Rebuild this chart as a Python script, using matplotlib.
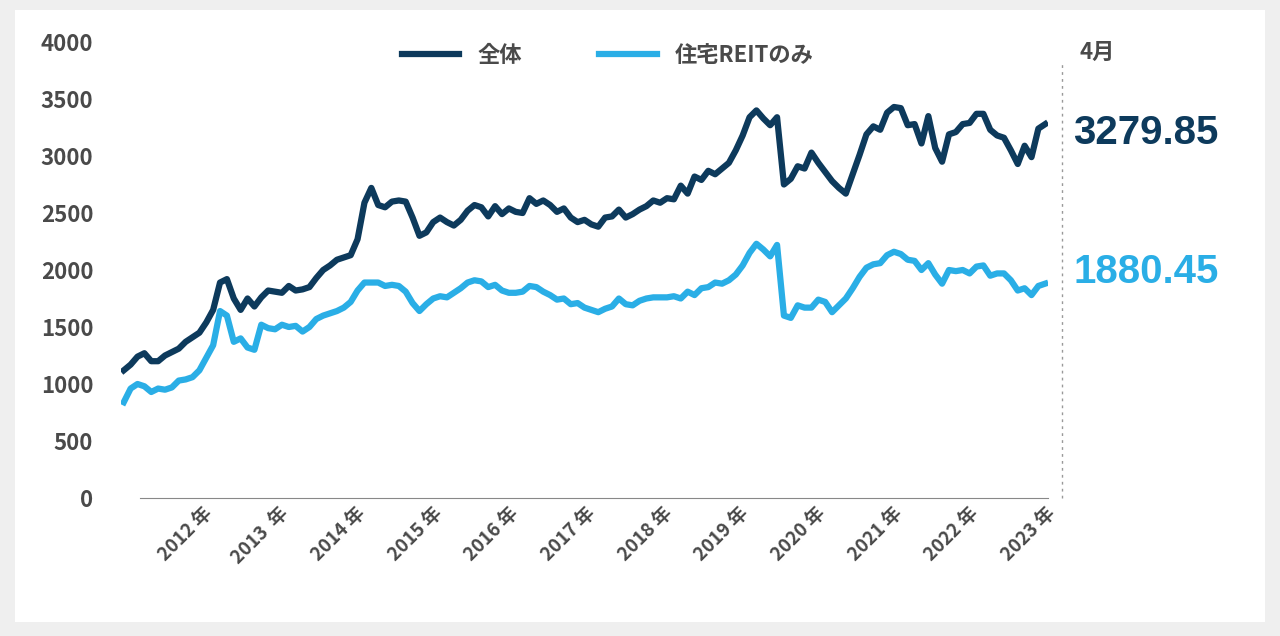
import numpy as np
import matplotlib.pyplot as plt

plt.rcParams['font.family'] = ['Noto Sans CJK JP']

# monthly index values (roughly)
total = [1120, 1170, 1240, 1270, 1200, 1200, 1250, 1280, 1310, 1370, 1410, 1450, 1540, 1650, 1890, 1920,
         1750, 1650, 1750, 1680, 1760, 1820, 1810, 1800, 1860, 1820, 1830, 1850, 1930, 2000, 2040, 2090,
         2110, 2130, 2270, 2590, 2720, 2570, 2550, 2600, 2610, 2600, 2460, 2300, 2330, 2420, 2460, 2420,
         2390, 2440, 2520, 2570, 2550, 2470, 2560, 2490, 2540, 2510, 2500, 2630, 2580, 2610, 2570, 2510,
         2540, 2460, 2420, 2440, 2400, 2380, 2460, 2470, 2530, 2460, 2490, 2530, 2560, 2610, 2590, 2630,
         2620, 2740, 2670, 2820, 2790, 2870, 2840, 2890, 2940, 3050, 3180, 3340, 3400, 3330, 3270, 3340,
         2750, 2800, 2910, 2890, 3030, 2940, 2860, 2780, 2720, 2670, 2840, 3010, 3190, 3260, 3230, 3380,
         3430, 3420, 3270, 3280, 3110, 3350, 3070, 2950, 3190, 3210, 3280, 3290, 3370, 3370, 3230, 3180,
         3160, 3050, 2930, 3090, 2990, 3240, 3279.85]
residential = [840, 960, 1000, 980, 930, 960, 950, 970, 1030, 1040, 1060, 1120, 1230, 1340, 1640, 1600,
               1370, 1400, 1320, 1300, 1520, 1490, 1480, 1520, 1500, 1510, 1460, 1500, 1570, 1600, 1620, 1640,
               1670, 1720, 1820, 1890, 1890, 1890, 1860, 1870, 1860, 1810, 1710, 1640, 1700, 1750, 1770, 1760,
               1800, 1840, 1890, 1910, 1900, 1850, 1870, 1820, 1800, 1800, 1810, 1860, 1850, 1810, 1780, 1740,
               1750, 1700, 1710, 1670, 1650, 1630, 1660, 1680, 1750, 1700, 1690, 1730, 1750, 1760, 1760, 1760,
               1770, 1750, 1810, 1780, 1840, 1850, 1890, 1880, 1910, 1960, 2040, 2150, 2230, 2180, 2120, 2220,
               1600, 1580, 1690, 1670, 1670, 1740, 1720, 1630, 1690, 1750, 1840, 1940, 2020, 2050, 2060, 2130,
               2160, 2140, 2090, 2080, 2000, 2060, 1960, 1880, 2000, 1990, 2000, 1970, 2030, 2040, 1950, 1970,
               1970, 1910, 1820, 1840, 1780, 1860, 1880.45]
years = [f"{y} 年" for y in range(2012, 2024)]
years[1] = "2013  年"

dark = '#0d3a5c'
light = '#2aaee6'
gray = '#4a4a4a'

fig = plt.figure(figsize=(12.8, 6.36), dpi=100, facecolor='#efefef')
card = fig.add_axes([0.012, 0.022, 0.976, 0.962])
card.set_facecolor('white')
card.set_xticks([])
card.set_yticks([])
for s in card.spines.values():
    s.set_visible(False)

ax = fig.add_axes([121 / 1280, 138 / 636, (1048 - 121) / 1280, (498 - 42) / 636])
ax.patch.set_alpha(0)
n = len(total)
x = np.arange(n)
ax.plot(x, total, color=dark, lw=4.5, solid_joinstyle='round', label='全体')
ax.plot(np.arange(len(residential)), residential, color=light, lw=4.5, solid_joinstyle='round', label='住宅REITのみ')
ax.set_xlim(-0.4, n - 0.6)
ax.set_ylim(0, 4000)

for s in ['top', 'right', 'left']:
    ax.spines[s].set_visible(False)
ax.spines['bottom'].set_color('#888888')
ax.spines['bottom'].set_bounds(2.3, n - 0.6)
ax.set_yticks(range(0, 4001, 500))
ax.tick_params(axis='y', length=0, pad=20, labelsize=16, labelcolor=gray)
ax.tick_params(axis='x', length=0, pad=4, labelsize=13.5, labelcolor=gray)
for t in ax.get_yticklabels():
    t.set_fontweight('bold')

ticks = [11.4 + 11.15 * k for k in range(len(years))]
ax.set_xticks(ticks)
ax.set_xticklabels(years, rotation=45, ha='right', va='top', rotation_mode='anchor', fontweight='bold')

leg = ax.legend(loc='upper center', bbox_to_anchor=(0.525, 1.04), ncol=2, frameon=False,
                handlelength=2.6, columnspacing=3.5, prop={'size': 16, 'weight': 'bold'})
for t in leg.get_texts():
    t.set_color(gray)

fig.add_artist(plt.Line2D([1062 / 1280] * 2, [(636 - 498) / 636, (636 - 62) / 636],
                          ls=(0, (2, 3)), color='#999999', lw=1))
fig.text(1080 / 1280, (636 - 52) / 636, '4月', fontsize=16, fontweight='bold', color=gray, va='center')
fig.text(1073 / 1280, (636 - 133) / 636, f'{total[-1]:.2f}', fontsize=29, fontweight='bold',
         color=dark, va='center', family='Liberation Sans')
fig.text(1073 / 1280, (636 - 272) / 636, f'{residential[-1]:.2f}', fontsize=29, fontweight='bold',
         color=light, va='center', family='Liberation Sans')

fig.savefig('out.png', dpi=100, facecolor=fig.get_facecolor())
